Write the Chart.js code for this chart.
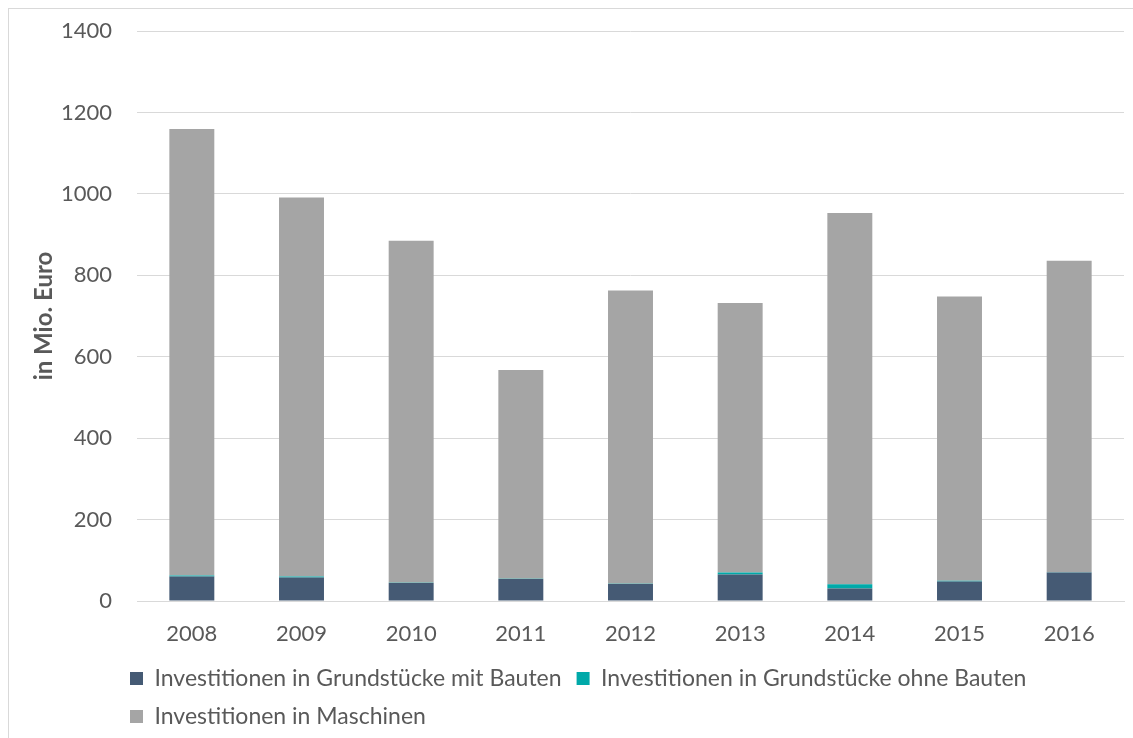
<!DOCTYPE html>
<html>
<head>
<meta charset="utf-8">
<script src="https://cdn.jsdelivr.net/npm/chart.js@4.4.1/dist/chart.umd.min.js"></script>
<style>
  html, body { margin: 0; padding: 0; background: #ffffff; }
  #wrap { position: relative; width: 1133px; height: 738px; }
  canvas { display: block; }
</style>
</head>
<body>
<div id="wrap"><canvas id="c" width="1133" height="738"></canvas></div>
<script>
const years = ['2008', '2009', '2010', '2011', '2012', '2013', '2014', '2015', '2016'];
const grundstueckeMitBauten = [60, 58, 44, 54, 42, 65, 31, 48, 70];
const grundstueckeOhneBauten = [2.5, 2, 1, 0.5, 0.5, 5, 10, 2, 0.5];
const maschinen = [1097, 931, 840, 513, 720, 662, 912, 698, 765];
const seriesNames = [
  'Investitionen in Grundstücke mit Bauten',
  'Investitionen in Grundstücke ohne Bauten',
  'Investitionen in Maschinen'
];
const yTicks = [0, 200, 400, 600, 800, 1000, 1200, 1400];

const FONT = 'Lato, "Open Sans", sans-serif';
const TXT = '#595959';

const frame = {
  id: 'frame',
  beforeDraw(chart) {
    const ctx = chart.ctx;
    ctx.save();
    ctx.strokeStyle = '#d9d9d9';
    ctx.lineWidth = 1;
    ctx.strokeRect(8.5, 8.5, 3000, 3000);
    ctx.restore();
  }
};
const legendShift = {
  id: 'legendShift',
  afterLayout(chart) {
    if (chart.legend) {
      chart.legend.left = 115;
    }
  }
};

new Chart(document.getElementById('c'), {
  type: 'bar',
  data: {
    labels: years,
    datasets: [
      { label: seriesNames[0], data: grundstueckeMitBauten, backgroundColor: '#455a74' },
      { label: seriesNames[1], data: grundstueckeOhneBauten, backgroundColor: '#00a9a9' },
      { label: seriesNames[2], data: maschinen, backgroundColor: '#a5a5a5' }
    ]
  },
  plugins: [frame, legendShift],
  options: {
    responsive: false,
    animation: false,
    layout: { padding: { left: 8, top: 31, right: 9, bottom: 0 } },
    datasets: { bar: { categoryPercentage: 1, barPercentage: 0.41 } },
    scales: {
      x: {
        stacked: true,
        grid: { display: false, drawTicks: false },
        border: { display: true, color: '#d9d9d9', width: 1 },
        ticks: { color: TXT, font: { family: FONT, size: 22 }, padding: 20 },
        afterFit(s) { s.height = 51; }
      },
      y: {
        stacked: true,
        min: 0, max: 1400,
        afterBuildTicks(s) { s.ticks = yTicks.map(v => ({ value: v })); },
        grid: { color: '#d9d9d9', drawTicks: false },
        border: { display: false },
        ticks: {
          color: TXT, font: { family: FONT, size: 22 }, padding: 25,
          callback: v => String(v)
        },
        title: {
          display: true, text: 'in Mio. Euro', color: TXT,
          font: { family: FONT, size: 24, weight: 'bold' },
          padding: { top: 22, bottom: 0 }
        },
        afterFit(s) {
          s.width = 129;
          s.paddingTop = 14;
          s.paddingBottom = 14;
        }
      }
    },
    plugins: {
      tooltip: { enabled: false },
      legend: {
        position: 'bottom',
        align: 'start',
        labels: {
          color: TXT,
          font: { family: FONT, size: 23 },
          boxWidth: 13, boxHeight: 13,
          padding: 15
        }
      }
    }
  }
});
</script>
</body>
</html>
